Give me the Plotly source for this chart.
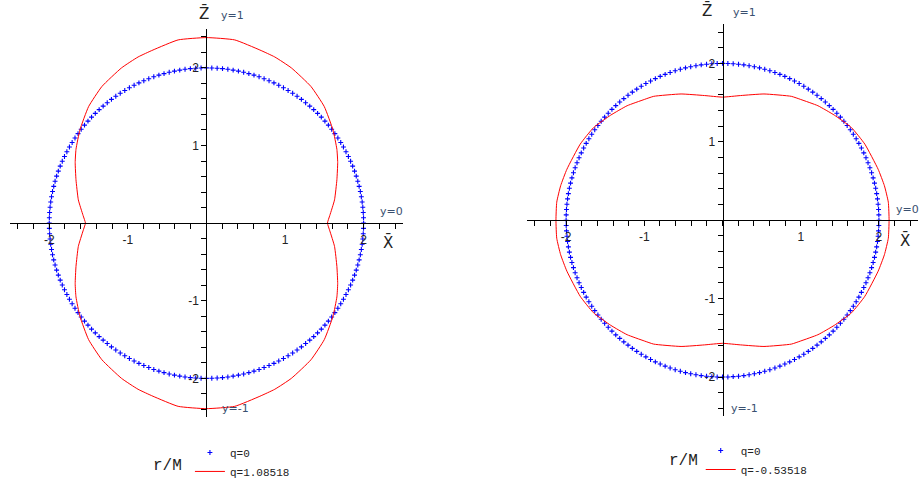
import numpy as np
import plotly.graph_objects as go

# q = 0 curve: a circle of radius 2 (both panels)
r_q0 = 2.0
n_q0 = 184

# first-quadrant points of the red curves (X, Z)
x_left = [0.0, 0.36, 0.68, 0.87, 1.08, 1.33, 1.50, 1.61, 1.66, 1.67, 1.66, 1.63, 1.57, 1.54]
z_left = [2.39, 2.36, 2.23, 2.14, 2.00, 1.76, 1.50, 1.20, 0.95, 0.78, 0.56, 0.30, 0.10, 0.0]

x_right = [0.0, 0.23, 0.53, 0.88, 1.00, 1.22, 1.43, 1.65, 1.82, 1.99, 2.07, 2.12, 2.13]
z_right = [1.57, 1.59, 1.61, 1.58, 1.54, 1.46, 1.34, 1.18, 0.97, 0.65, 0.44, 0.23, 0.0]

q_left = "q=1.08518"
q_right = "q=-0.53518"

tick_vals = [-2, -1, 1, 2]
tick_text = ["-2", "-1", "1", "2"]
minor_vals = [round(v * 0.2, 1) for v in range(-12, 13)]


def mirror(xq, zq):
    # build the closed curve from the first quadrant using the symmetry of the plot
    xs = list(xq) + [x for x in xq[::-1][1:]] + [-x for x in xq[1:]] + [-x for x in xq[::-1][1:]]
    zs = list(zq) + [-z for z in zq[::-1][1:]] + [-z for z in zq[1:]] + [z for z in zq[::-1][1:]]
    return xs, zs


ang = np.linspace(0, 2 * np.pi, n_q0, endpoint=False)
circ_x = r_q0 * np.sin(ang)
circ_z = r_q0 * np.cos(ang)

fig = go.Figure()

panels = [("x", "y", "legend", x_left, z_left, q_left),
          ("x2", "y2", "legend2", x_right, z_right, q_right)]

for xa, ya, lg, xq, zq, lab in panels:
    fig.add_trace(go.Scatter(
        x=circ_x, y=circ_z, xaxis=xa, yaxis=ya, mode="markers", name="q=0",
        legend=lg, cliponaxis=False,
        marker=dict(symbol="cross-thin", size=3.5, color="#0000ff",
                    line=dict(color="#0000ff", width=1.1))))
    cx, cz = mirror(xq, zq)
    fig.add_trace(go.Scatter(
        x=cx, y=cz, xaxis=xa, yaxis=ya, mode="lines", name=lab, legend=lg,
        cliponaxis=False,
        line=dict(color="#ff0000", width=1, shape="spline", smoothing=0.45)))

tickfont = dict(family="Liberation Sans, Arial", size=12, color="#222222")


def xax(dom, pos):
    return dict(domain=dom, range=[-2.5, 2.5], anchor="free", position=pos,
                showline=True, linecolor="black", linewidth=1, showgrid=False,
                zeroline=False, ticks="outside", ticklen=5, tickcolor="black",
                tickvals=tick_vals, ticktext=tick_text, tickfont=tickfont,
                minor=dict(tickvals=minor_vals, ticks="outside", ticklen=5,
                           tickcolor="black", showgrid=False),
                fixedrange=True)


def yax(dom, pos):
    d = xax(dom, pos)
    d["side"] = "left"
    return d


legfont = dict(family="Liberation Mono, Courier New", size=11, color="#222222")

fig.update_layout(
    width=922, height=484,
    margin=dict(l=0, r=0, t=0, b=0, autoexpand=False),
    paper_bgcolor="white", plot_bgcolor="white",
    showlegend=True,
    xaxis=xax([0.0108, 0.437], 0.539),
    yaxis=yax([0.138, 0.940], 0.2239),
    xaxis2=xax([0.5716, 0.9957], 0.545),
    yaxis2=yax([0.140, 0.950], 0.7837),
    legend=dict(x=0.206, y=-0.004, xanchor="left", yanchor="bottom", font=legfont,
                bgcolor="rgba(0,0,0,0)", itemwidth=30, tracegroupgap=0),
    legend2=dict(x=0.760, y=0.0, xanchor="left", yanchor="bottom", font=legfont,
                 bgcolor="rgba(0,0,0,0)", itemwidth=30, tracegroupgap=0),
)

lab_font = dict(family="DejaVu Sans", size=11, color="#3a5070")
big_font = dict(family="DejaVu Sans", size=15, color="#222222")

# axis labels placed in page fractions
notes = [
    (0.221, 0.972, "Z\u0304", big_font),
    (0.252, 0.969, "y=1", lab_font),
    (0.421, 0.498, "X\u0304", big_font),
    (0.425, 0.564, "y=0", lab_font),
    (0.255, 0.155, "y=-1", lab_font),
    (0.767, 0.978, "Z\u0304", big_font),
    (0.808, 0.975, "y=1", lab_font),
    (0.982, 0.504, "X\u0304", big_font),
    (0.984, 0.568, "y=0", lab_font),
    (0.808, 0.155, "y=-1", lab_font),
]
for xv, yv, txt, fnt in notes:
    fig.add_annotation(xref="paper", yref="paper", x=xv, y=yv, text=txt,
                       xanchor="center", yanchor="middle", showarrow=False, font=fnt)

rm_font = dict(family="Liberation Mono, Courier New", size=16, color="#222222")
fig.add_annotation(xref="paper", yref="paper", x=0.182, y=0.037, text="r/M",
                   xanchor="center", yanchor="middle", showarrow=False, font=rm_font)
fig.add_annotation(xref="paper", yref="paper", x=0.741, y=0.047, text="r/M",
                   xanchor="center", yanchor="middle", showarrow=False, font=rm_font)

fig.write_html("out.html", config={"displayModeBar": False},
               post_script="document.body.style.margin='0px';")
